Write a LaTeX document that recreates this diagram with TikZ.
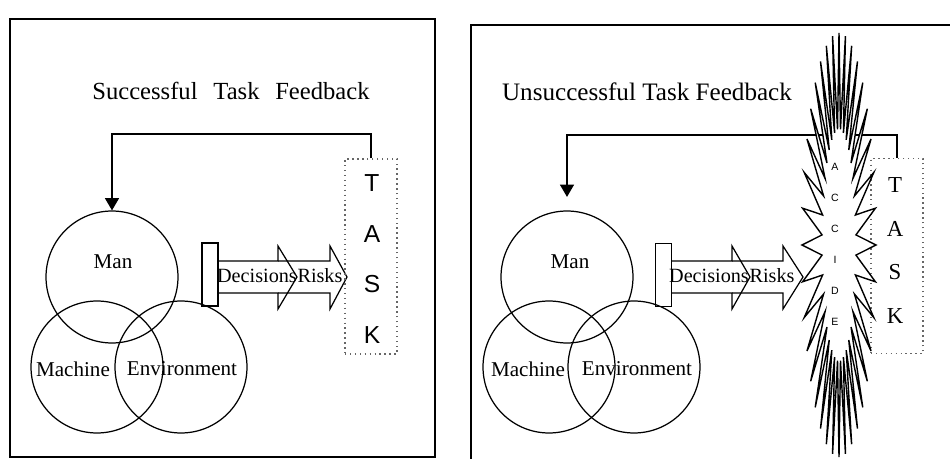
\documentclass[tikz,border=0pt]{standalone}
\usepackage{fontspec}
\setmainfont{Liberation Serif}
\setsansfont{Liberation Sans}
\usetikzlibrary{arrows.meta,positioning}

\newcommand{\blockarrow}[3]{%
  \draw[blockarr] (#1,261) -- (#2,261) -- (#2,246) -- (#3,277) -- (#2,309) -- (#2,293) -- (#1,293);}

\begin{document}
\begin{tikzpicture}[x=0.02cm,y=-0.02cm,line width=0.7pt,
    frame/.style={line width=1pt},
    ring/.style={draw,circle,minimum size=2.64cm,inner sep=0pt},
    lbl/.style={font=\fontsize{12}{12}\selectfont,inner sep=0pt},
    bar/.style={draw,rectangle,minimum width=0.32cm,minimum height=1.26cm,inner sep=0pt},
    blockarr/.style={line join=miter},
    taskbox/.style={draw=black!60,dotted,line width=0.8pt,minimum width=1.04cm,minimum height=3.9cm,inner sep=0pt},
    feedback/.style={-{Triangle[width=8pt,length=7pt]}},
    burst/.style={fill=white,line join=miter,line width=0.8pt}]
  \useasboundingbox (0,0) rectangle (950,459);

  % successful
  \draw[frame] (10,19) rectangle (435,457);
  \node[font=\fontsize{14}{14}\selectfont] (title1) at (231,91)
    {Successful\hspace{9pt}Task\hspace{9pt}Feedback};
  \node[ring] (man1) at (112,277) {};
  \node[ring] (machine1) at (97,367) {};
  \node[ring] (env1) at (181,367) {};
  \node[lbl] (manl1) at (113,262) {Man};
  \node[lbl] (machinel1) at (73,369) {Machine};
  \node[lbl] (envl1) at (182,369) {Environment};
  \node[bar] (bar1) at (210,274.5) {};
  \blockarrow{218}{278}{297}
  \blockarrow{278}{330}{347}
  \node[lbl,font=\fontsize{11.5}{12}\selectfont] (dec1) at (257,276) {Decisions};
  \node[lbl,font=\fontsize{11.5}{12}\selectfont] (risk1) at (320,276) {Risks};
  \node[taskbox] (task1) at (371,256.5) {};
  \foreach \l [count=\i] in {T,A,S,K}
    \node[font=\sffamily\fontsize{14}{14}\selectfont,inner sep=0pt] (t1\i) at (372,133+50.5*\i) {\l};
  \coordinate (fb1) at (112,134);
  \draw[feedback] (task1.north) |- (fb1) -- (man1.north);

  % unsuccessful
  \draw[frame] (951,25) -- (471,25) -- (471,459);
  \node[font=\fontsize{14.3}{15}\selectfont] (title2) at (647,92) {Unsuccessful Task Feedback};
  \node[ring] (man2) at (567,277) {};
  \node[ring] (machine2) at (549,367) {};
  \node[ring] (env2) at (634,367) {};
  \node[lbl] (manl2) at (570,262) {Man};
  \node[lbl] (machinel2) at (528,369) {Machine};
  \node[lbl] (envl2) at (637,369) {Environment};
  \node[bar] (bar2) at (663.5,275) {};
  \blockarrow{672}{732}{750}
  \blockarrow{732}{783}{803}
  \node[lbl,font=\fontsize{11.5}{12}\selectfont] (dec2) at (709,276) {Decisions};
  \node[lbl,font=\fontsize{11.5}{12}\selectfont] (risk2) at (772,276) {Risks};
  \node[taskbox] (task2) at (897,256) {};
  \coordinate (fb2) at (567,135);
  \draw[feedback,shorten >=0.27cm] (task2.north) |- (fb2) -- (man2.north);
  \draw[burst] plot[domain=0:71,samples=72,variable=\k]
    ({839+(27+10*cos(180*\k))*cos(5*\k)},{245+(164+48*cos(180*\k))*sin(5*\k)}) -- cycle;
  \foreach \l [count=\i] in {A,C,C,I,D,E}
    \node[font=\sffamily\fontsize{6}{6}\selectfont,inner sep=0pt] (a\i) at (835,136+31*\i) {\l};
  \foreach \l [count=\i] in {T,A,S,K}
    \node[font=\fontsize{13}{13}\selectfont,inner sep=0pt] (t2\i) at (895,142+43.5*\i) {\l};
\end{tikzpicture}
\end{document}
